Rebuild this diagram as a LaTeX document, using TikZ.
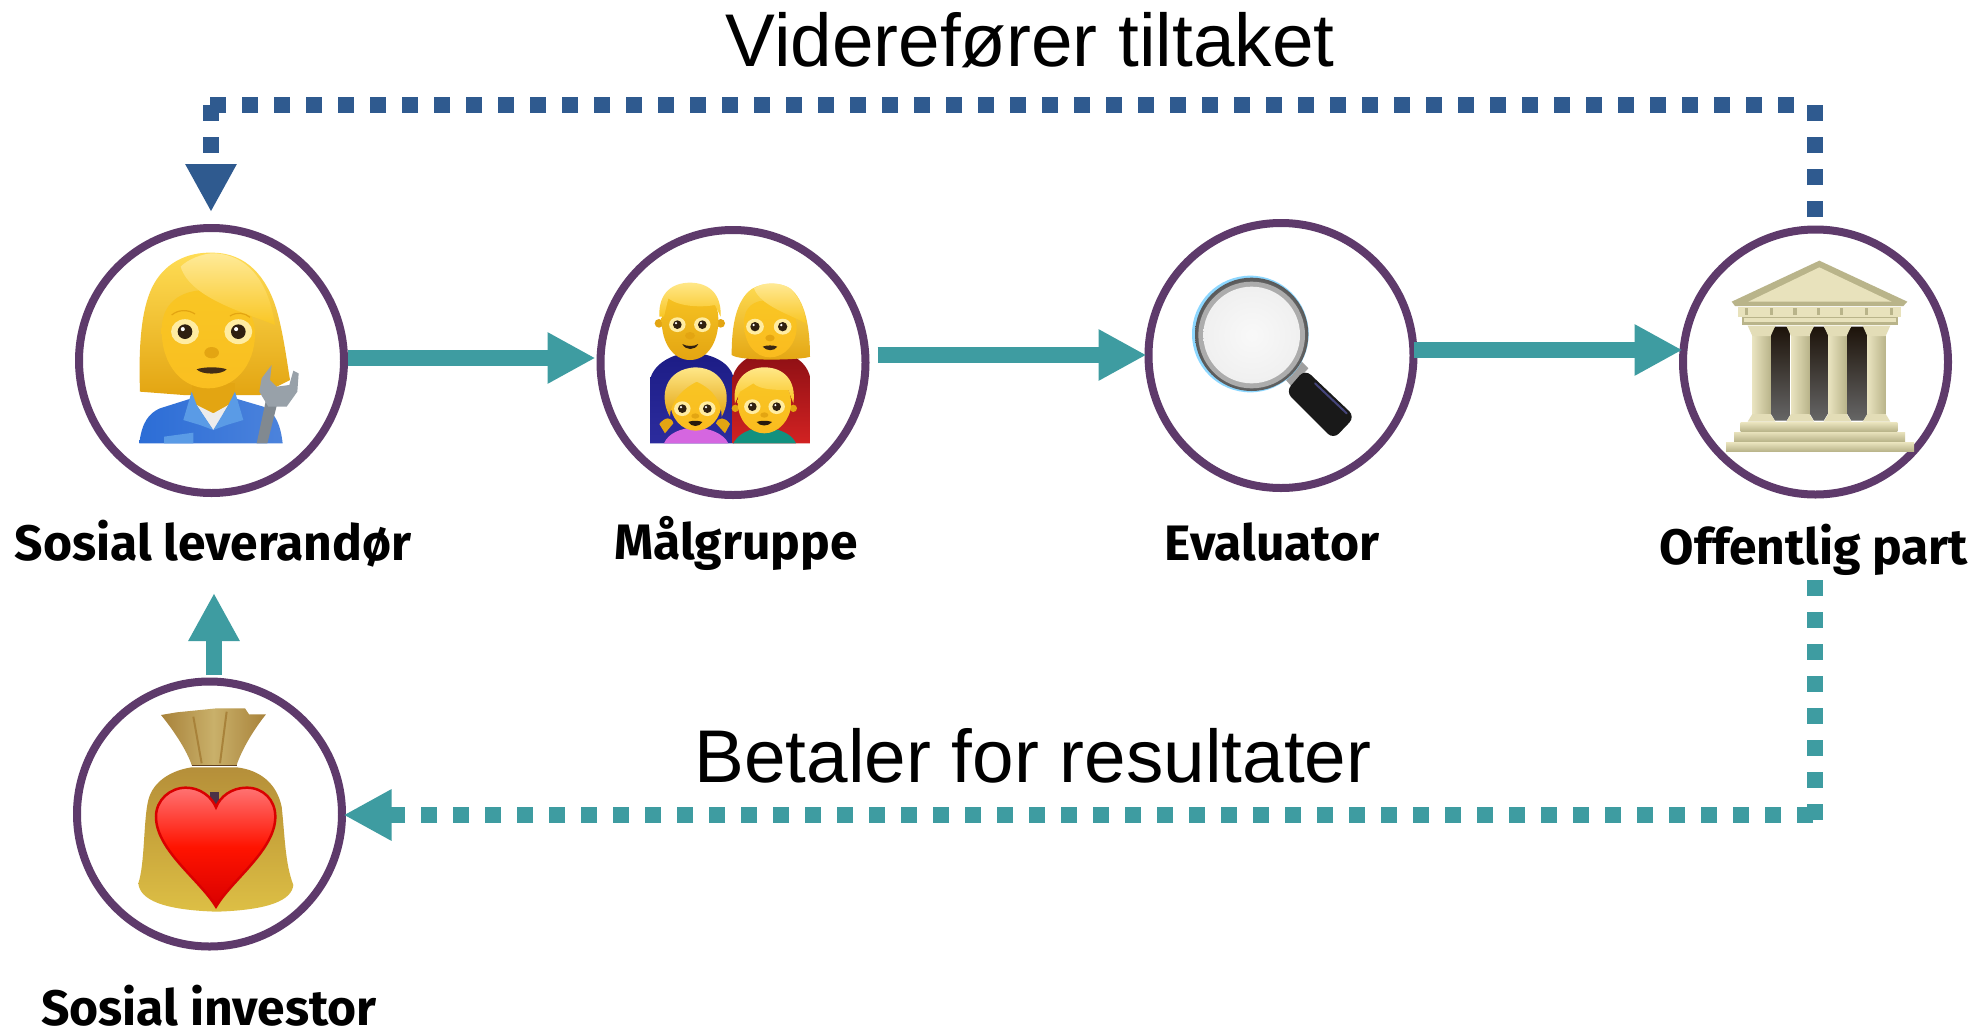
\documentclass[tikz,border=0pt]{standalone}
\usepackage{fontspec}
\setmainfont{Liberation Sans}
\newfontfamily\lblfont{Fira Sans}
\usetikzlibrary{arrows.meta,calc}
\definecolor{ring}{HTML}{5E3A6B}
\definecolor{teal}{HTML}{3E9CA1}
\definecolor{navy}{HTML}{2F5A8F}
\definecolor{gold}{HTML}{F9C624}
\definecolor{goldd}{HTML}{E3A512}
\definecolor{goldl}{HTML}{FFDD55}
\definecolor{stone}{HTML}{E8E2BC}
\definecolor{stoned}{HTML}{B9B48A}
\definecolor{shirt}{HTML}{2C6DD6}
\definecolor{shirtl}{HTML}{5A9BE6}
\definecolor{steel}{HTML}{98A1A9}
\definecolor{dadblue}{HTML}{1C1C85}
\definecolor{dadblued}{HTML}{2C2C9E}
\definecolor{mumred}{HTML}{8C0F14}
\definecolor{mumredl}{HTML}{D22222}
\definecolor{girlpink}{HTML}{D566E0}
\definecolor{boyteal}{HTML}{12917F}
\definecolor{bagtop}{HTML}{B58F3A}
\definecolor{bagmid}{HTML}{C9A63C}
\definecolor{baglow}{HTML}{DDBF45}
\definecolor{bagfold}{HTML}{A8823A}
\definecolor{bagneck}{HTML}{C9B06A}
\tikzset{
  actor/.style={circle,draw=ring,line width=8pt,minimum size=265pt,inner sep=0pt,fill=white},
  flow/.style={line width=16pt,color=teal,-{Triangle[length=48pt,width=48pt]}},
  paydash/.style={line width=16pt,color=teal,dash pattern=on 16pt off 16pt},
  bluedash/.style={line width=16pt,color=navy,dash pattern=on 16pt off 16pt},
  actorlabel/.style={anchor=base,font=\lblfont\bfseries\fontsize{49.8}{52}\selectfont,inner sep=0pt},
  caption/.style={anchor=base,font=\fontsize{74.7}{80}\selectfont,inner sep=0pt},
  zoomed/.style={x=0.33333pt,y=-0.33333pt}
}
\newcommand{\emeye}[3]{%
  \fill[goldl!55!white] (#1,#2) ellipse ({#3*1.9} and {#3*1.7});
  \fill[black!75!brown] (#1,#2) circle (#3);
  \fill[white] ({#1-#3*.3},{#2-#3*.35}) circle ({#3*.28});
}
\begin{document}
\begin{tikzpicture}[x=1pt,y=-1pt]
\useasboundingbox (0,0) rectangle (1982,1034);
\fill[white] (0,0) rectangle (1982,1034);
% actors
\node[actor] (lev) at (211.5,360.5) {};
\node[actor] (mal) at (733,362.5) {};
\node[actor] (eva) at (1281,355.5) {};
\node[actor] (off) at (1815.5,362) {};
\node[actor] (inv) at (209.5,814) {};
% labels
\node[actorlabel] (tlev) at (213,560) {Sosial leverandør};
\node[actorlabel] (tmal) at (736,559) {Målgruppe};
\node[actorlabel] (teva) at (1272,560) {Evaluator};
\node[actorlabel] (toff) at (1814,564) {Offentlig part};
\node[actorlabel] (tinv) at (209,1025) {Sosial investor};
\node[caption] (cap1) at (1030,66) {Viderefører tiltaket};
\node[caption] (cap2) at (1033,782) {Betaler for resultater};
% solid flows
\draw[flow] (lev.east |- 0,358) -- ([xshift=-1pt]mal.west |- 0,358);
\draw[flow] ([xshift=8pt]mal.east |- 0,355) -- ([xshift=2pt]eva.west |- 0,355);
\draw[flow] ([xshift=-4pt]eva.east |- 0,350) -- ([xshift=3.5pt]off.west |- 0,350);
\draw[flow] (214,675) -- (214,593);
% dotted connectors
\coordinate (payStart) at (1815,580);
\coordinate (payCorner) at (1815,820);
\coordinate (payRun) at (1813,815);
\coordinate (payEnd) at ([xshift=-2.5pt]inv.east |- 0,815);
\draw[paydash] (payStart) -- (payCorner);
\draw[paydash,-{Triangle[length=48pt,width=48pt]}] (payRun) -- (payEnd);
\coordinate (backStart) at (1815,217);
\coordinate (backCorner) at (1815,105);
\coordinate (backRun) at (1794,105);
\coordinate (backTop) at (209,105);
\coordinate (backDown) at (211,105);
\draw[bluedash] (backStart) -- (backCorner);
\draw[bluedash] (backRun) -- (backTop);
\draw[bluedash,-{Triangle[length=48pt,width=48pt]}] (backDown) -- (211,212);
% woman
\begin{scope}[shift={(60,210)},zoomed]
  \shade[top color=goldl,bottom color=goldd] (240,545) .. controls (235,400) and (245,300) .. (275,235) .. controls (310,160) and (380,125) .. (460,128) .. controls (560,130) and (620,200) .. (650,300) .. controls (670,370) and (680,450) .. (690,510) -- (600,555) -- (370,555) -- cycle;
  \fill[goldd] (395,520) -- (525,520) -- (525,610) -- (395,610) -- cycle;
  \shade[left color=shirt,right color=shirt!85!white] (238,700) .. controls (245,640) and (265,610) .. (300,595) -- (395,565) -- (460,660) -- (525,565) -- (610,590) .. controls (650,610) and (662,650) .. (668,700) -- cycle;
  \fill[gray!15] (410,585) -- (460,660) -- (505,585) -- (460,610) -- cycle;
  \fill[shirtl] (395,545) -- (370,630) -- (420,645) -- (460,660) -- (410,585) -- cycle;
  \fill[shirtl] (525,545) -- (550,630) -- (500,645) -- (460,660) -- (505,585) -- cycle;
  \fill[shirtl] (312,680) -- (400,668) -- (400,700) -- (312,700) -- cycle;
  \shade[top color=gold,bottom color=gold!90!orange] (305,360) .. controls (305,280) and (360,240) .. (440,240) .. controls (530,240) and (585,300) .. (585,370) .. controls (585,470) and (520,535) .. (445,535) .. controls (370,535) and (305,470) .. (305,360) -- cycle;
  \shade[top color=goldl!60!white,bottom color=gold] (362,170) .. controls (380,150) and (430,128) .. (465,130) .. controls (560,135) and (625,210) .. (645,345) .. controls (560,310) and (390,265) .. (362,170) -- cycle;
  \draw[goldd,line width=1.2pt] (335,315) .. controls (355,298) and (385,298) .. (405,312);
  \draw[goldd,line width=1.2pt] (510,318) .. controls (530,305) and (555,308) .. (570,322);
  \emeye{375}{365}{22}
  \emeye{535}{365}{22}
  \fill[goldd] (455,428) ellipse (22 and 17);
  \fill[black!65!brown] (410,478) .. controls (430,470) and (480,470) .. (500,478) .. controls (485,495) and (425,495) .. (410,478) -- cycle;
  \fill[steel!85!black] (657,560) -- (622,700) -- (590,700) -- (620,560) -- cycle;
  \fill[steel] (635,465) -- (605,505) -- (598,545) -- (625,590) -- (680,590) -- (712,545) -- (716,490) -- (700,482) -- (688,525) -- (650,530) -- (630,510) -- cycle;
\end{scope}
% family
\begin{scope}[shift={(590,220)},zoomed]
  \shade[top color=dadblue,bottom color=dadblued] (180,670) -- (180,480) .. controls (190,430) and (250,400) .. (300,398) .. controls (370,400) and (425,430) .. (432,480) -- (432,670) -- cycle;
  \shade[top color=mumred,bottom color=mumredl] (428,670) -- (428,470) .. controls (440,425) and (490,395) .. (545,395) .. controls (610,395) and (655,430) .. (662,480) -- (662,670) -- cycle;
  % dad
  \fill[goldd] (207,310) circle (13);\fill[goldd] (392,310) circle (13);
  \shade[top color=gold,bottom color=goldd] (300,420) .. controls (250,420) and (215,370) .. (215,300) .. controls (215,235) and (250,200) .. (300,200) .. controls (350,200) and (385,235) .. (385,300) .. controls (385,370) and (350,420) .. (300,420) -- cycle;
  \shade[top color=goldl!70!white,bottom color=gold] (208,290) .. controls (205,215) and (250,188) .. (300,188) .. controls (350,188) and (395,215) .. (392,290) -- (375,255) .. controls (340,262) and (270,262) .. (235,235) -- (222,290) -- cycle;
  \emeye{262}{314}{13}
  \emeye{337}{314}{13}
  \fill[goldd] (300,347) ellipse (15 and 11);
  \fill[black!75!brown] (277,372) .. controls (290,380) and (312,380) .. (325,372) .. controls (315,392) and (287,392) .. (277,372) -- cycle;
  % mum
  \shade[top color=goldl,bottom color=goldd] (425,405) .. controls (425,310) and (440,250) .. (475,215) .. controls (500,190) and (560,182) .. (600,205) .. controls (645,240) and (660,320) .. (660,410) .. controls (640,420) and (450,425) .. (425,405) -- cycle;
  \shade[top color=gold,bottom color=gold!85!orange] (462,310) .. controls (462,260) and (490,240) .. (540,240) .. controls (590,240) and (620,270) .. (620,320) .. controls (620,370) and (585,412) .. (540,412) .. controls (495,412) and (462,370) .. (462,310) -- cycle;
  \shade[top color=goldl!60!white,bottom color=gold] (492,205) .. controls (520,185) and (570,185) .. (600,205) .. controls (630,235) and (645,270) .. (648,310) .. controls (590,280) and (510,255) .. (492,205) -- cycle;
  \emeye{495}{320}{14}
  \emeye{578}{320}{14}
  \fill[goldd] (540,354) ellipse (14 and 10);
  \fill[black!70!brown] (518,380) .. controls (530,375) and (550,375) .. (562,380) .. controls (552,394) and (530,394) .. (518,380) -- cycle;
  % girl body and pigtails
  \fill[girlpink] (222,670) .. controls (235,640) and (270,625) .. (315,622) .. controls (360,625) and (400,640) .. (415,670) -- cycle;
  \fill[goldd] (208,612) .. controls (225,590) and (245,590) .. (250,610) -- (225,640) -- cycle;
  \fill[goldd] (420,612) .. controls (405,590) and (385,590) .. (378,610) -- (405,640) -- cycle;
  % boy body
  \fill[boyteal] (430,670) .. controls (445,640) and (480,625) .. (520,622) .. controls (565,625) and (605,640) .. (618,670) -- cycle;
  % girl head
  \shade[top color=gold,bottom color=gold!85!orange] (240,540) .. controls (240,490) and (275,470) .. (318,470) .. controls (365,470) and (395,495) .. (395,545) .. controls (395,595) and (360,632) .. (317,632) .. controls (275,632) and (240,595) .. (240,540) -- cycle;
  \shade[top color=goldl!70!white,bottom color=goldd] (240,590) .. controls (205,530) and (225,445) .. (318,442) .. controls (405,445) and (430,530) .. (395,590) .. controls (395,550) and (375,510) .. (320,485) .. controls (270,510) and (240,550) .. (240,590) -- cycle;
  \emeye{277}{566}{13}
  \emeye{352}{566}{13}
  \fill[goldd] (316,588) ellipse (12 and 8);
  \fill[black!80!brown] (295,606) .. controls (305,601) and (325,601) .. (337,606) .. controls (328,622) and (305,622) .. (295,606) -- cycle;
  % boy head
  \fill[goldd] (436,565) circle (11);\fill[goldd] (610,565) circle (11);
  \shade[top color=gold,bottom color=gold!85!orange] (443,545) .. controls (443,490) and (475,470) .. (523,470) .. controls (570,470) and (603,495) .. (603,550) .. controls (603,600) and (565,640) .. (523,640) .. controls (480,640) and (443,600) .. (443,545) -- cycle;
  \shade[top color=goldl!70!white,bottom color=gold] (435,550) .. controls (425,480) and (470,442) .. (523,442) .. controls (580,442) and (620,480) .. (610,550) -- (595,510) .. controls (560,510) and (510,510) .. (490,490) -- (450,515) -- cycle;
  \emeye{487}{560}{13}
  \emeye{560}{560}{13}
  \fill[goldd] (523,585) ellipse (12 and 8);
  \fill[black!80!brown] (500,606) .. controls (510,601) and (535,601) .. (546,606) .. controls (535,620) and (510,620) .. (500,606) -- cycle;
\end{scope}
% magnifier
\begin{scope}[shift={(1140,210)},zoomed]
  \fill[gray!75] (425,495) -- (475,445) -- (505,475) -- (455,530) -- cycle;
  \fill[black!90,rounded corners=8pt] (495,478) -- (645,620) -- (580,688) -- (437,545) -- cycle;
  \draw[gray!70!blue,line width=2pt,line cap=round,opacity=.7] (525,520) -- (620,610);
  \fill[blue!35!cyan!45!white] (331,372) circle (175);
  \shade[inner color=gray!30,outer color=gray!70!black] (335,373) circle (170);
  \fill[gray!65] (335,375) circle (160);
  \shade[inner color=gray!5,outer color=gray!12] (335,375) circle (145);
\end{scope}
% building
\begin{scope}[shift={(1670,210)},zoomed]
  \fill[stoned] (185,275) -- (448,152) -- (712,275) -- (700,288) -- (195,288) -- cycle;
  \fill[stone] (235,275) -- (448,172) -- (665,275) -- cycle;
  \fill[stone] (205,290) rectangle (692,320);
  \fill[stoned] (225,295) rectangle (235,316);
  \foreach \x in {300,370,440,510,585,660}{\fill[stoned] (\x,295) rectangle (\x+10,316);}
  \fill[stoned] (215,320) rectangle (685,345);
  \fill[stone] (222,324) rectangle (678,336);
  \foreach \a/\b in {303/362,420/473,532/592}{
    \shade[top color=black!85!brown,bottom color=black!60] (\a+12,350) -- (\b-12,350) -- (\b,368) -- (\b,612) -- (\b-12,632) -- (\a+12,632) -- (\a,612) -- (\a,368) -- cycle;
  }
  \foreach \a/\b in {247/302,363/418,475/530,592/647}{
    \shade[left color=stone!95!white,right color=stoned] (\a,375) rectangle (\b,620);
    \fill[stone!90!stoned] (\a-14,347) -- (\b+14,347) -- (\b,378) -- (\a,378) -- cycle;
    \fill[stone!90!stoned] (\a,612) -- (\b,612) -- (\b+14,635) -- (\a-14,635) -- cycle;
  }
  \shade[top color=stone,bottom color=stoned] (212,638) rectangle (682,664);
  \shade[top color=stone,bottom color=stoned] (192,666) rectangle (705,694);
  \shade[top color=stone,bottom color=stoned] (168,698) rectangle (732,724);
\end{scope}
% money bag with heart
\begin{scope}[shift={(60,580)},zoomed]
  \shade[left color=bagfold,right color=bagfold,middle color=bagneck] (303,405) -- (350,397) -- (470,385) -- (555,385) -- (567,403) -- (618,403) .. controls (580,450) and (545,510) .. (530,555) -- (395,555) .. controls (380,510) and (340,450) .. (303,405) -- cycle;
  \draw[bagfold,line width=2pt] (400,410) -- (425,550);
  \draw[bagfold,line width=2pt] (500,395) -- (480,550);
  \shade[top color=bagtop,bottom color=baglow,middle color=bagmid] (395,562) -- (530,562) .. controls (600,570) and (650,610) .. (665,680) .. controls (675,770) and (675,850) .. (700,915) .. controls (695,960) and (630,990) .. (470,995) .. controls (310,990) and (240,960) .. (235,910) .. controls (255,850) and (250,720) .. (265,660) .. controls (280,600) and (340,570) .. (395,562) -- cycle;
  \draw[brown!50!black,line width=1.5pt] (395,557) -- (530,557);
  \fill[black!70!blue!60!brown] (450,635) rectangle (478,680);
  \shade[top color=red!55!white,bottom color=red!85!black,middle color=red!85!orange,draw=red!85!black,line width=2.5pt] (468,980) .. controls (420,900) and (288,810) .. (288,710) .. controls (288,660) and (330,623) .. (378,623) .. controls (420,623) and (455,650) .. (468,682) .. controls (480,650) and (515,623) .. (560,623) .. controls (610,623) and (646,660) .. (646,710) .. controls (646,810) and (515,900) .. (468,980) -- cycle;
\end{scope}
\end{tikzpicture}
\end{document}
